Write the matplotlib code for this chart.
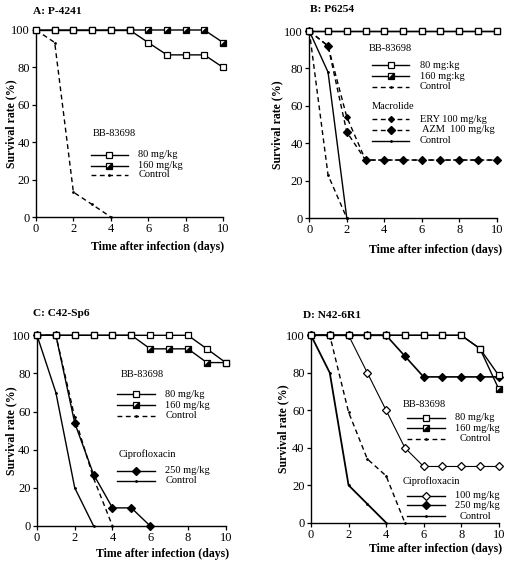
import matplotlib
matplotlib.use("Agg")
import matplotlib.pyplot as plt
from matplotlib.path import Path

plt.rcParams['font.family'] = ['Liberation Serif', 'DejaVu Serif']

days = list(range(11))

# Panel A: P-4241
A_80 = [100, 100, 100, 100, 100, 100, 93.3, 86.7, 86.7, 86.7, 80]
A_160 = [100, 100, 100, 100, 100, 100, 100, 100, 100, 100, 93.3]
A_ctrl_days = [0, 1, 2, 3, 4]
A_ctrl = [100, 93.3, 13.3, 6.7, 0]

# Panel B: P6254
B_80 = [100] * 11
B_160 = [100] * 11
B_ctrl_days = [0, 1, 2]
B_ctrl = [100, 23, 0]
B_ery = [100, 92, 54, 31, 31, 31, 31, 31, 31, 31, 31]
B_azm = [100, 92, 46, 31, 31, 31, 31, 31, 31, 31, 31]
B_mctrl_days = [0, 1, 2]
B_mctrl = [100, 78, 0]

# Panel C: C42-Sp6
C_80 = [100, 100, 100, 100, 100, 100, 100, 100, 100, 92.9, 85.7]
C_160 = [100, 100, 100, 100, 100, 100, 92.9, 92.9, 92.9, 85.7, 85.7]
C_ctrl_days = [0, 1, 2, 3, 4]
C_ctrl = [100, 100, 57, 25, 0]
C_cip250_days = [0, 1, 2, 3, 4, 5, 6]
C_cip250 = [100, 100, 54, 27, 9.5, 9.5, 0]
C_cctrl_days = [0, 1, 2, 3]
C_cctrl = [100, 70, 20, 0]

# Panel D: N42-6R1
D_80 = [100, 100, 100, 100, 100, 100, 100, 100, 100, 92.9, 78.6]
D_160 = [100, 100, 100, 100, 100, 100, 100, 100, 100, 92.9, 71.4]
D_ctrl_days = [0, 1, 2, 3, 4, 5]
D_ctrl = [100, 100, 59, 34, 25, 0]
D_cip100 = [100, 100, 100, 80, 60, 40, 30, 30, 30, 30, 30]
D_cip250 = [100, 100, 100, 100, 100, 88.9, 77.8, 77.8, 77.8, 77.8, 77.8]
D_cctrl_days = [0, 1, 2, 3, 4]
D_cctrl = [100, 80, 20, 10, 0]

W, H = 512, 564
fig = plt.figure(figsize=(W / 100, H / 100), dpi=100)

def px_axes(x0, x1, y_top, y_bot):
    return fig.add_axes([x0 / W, 1 - y_bot / H, (x1 - x0) / W, (y_bot - y_top) / H])

tri = Path([(-1, -1), (1, -1), (1, 1), (-1, -1)], [Path.MOVETO, Path.LINETO, Path.LINETO, Path.CLOSEPOLY])
MS = 4.3
DASH = (0, (3.5, 2.5))

def open_sq(ax, x, y, ls='-', lw=1.0):
    ax.plot(x, y, color='black', lw=lw, ls=ls, marker='s', ms=MS, mfc='white', mec='black', mew=0.9, clip_on=False, zorder=4)

def half_sq(ax, x, y, ls='-', lw=1.0):
    ax.plot(x, y, color='black', lw=lw, ls=ls, marker='s', ms=MS, mfc='white', mec='black', mew=0.9, clip_on=False, zorder=3)
    ax.plot(x, y, ls='none', marker=tri, ms=MS, mfc='black', mec='black', mew=0.3, clip_on=False, zorder=3.5)

def dot_line(ax, x, y, ls='-', lw=1.0, z=2):
    ax.plot(x, y, color='black', lw=lw, ls=ls, marker='.', ms=2, clip_on=False, zorder=z)

def diamond(ax, x, y, filled=True, ls='-', lw=1.0, ms=MS, z=3):
    ax.plot(x, y, color='black', lw=lw, ls=ls, marker='D', ms=ms * 0.85,
            mfc='black' if filled else 'white', mec='black', mew=0.9, clip_on=False, zorder=z)

def style(ax):
    ax.set_xlim(0, 10)
    ax.set_ylim(0, 100)
    ax.set_xticks([0, 2, 4, 6, 8, 10])
    ax.set_yticks([0, 20, 40, 60, 80, 100])
    for s in ['top', 'right']:
        ax.spines[s].set_visible(False)
    for s in ['left', 'bottom']:
        ax.spines[s].set_linewidth(1.0)
    ax.tick_params(direction='out', length=3, width=0.9, labelsize=9, pad=1.5)
    ax.patch.set_alpha(0)

FS_LEG = 7.5
FS_LAB = 8.5

def leg_row(ax, x0, x1, xl, y, kind, label):
    xm = (x0 + x1) / 2
    ax.plot([x0, x1], [y, y], color='black', lw=1.0, ls=DASH if kind in ('dash', 'dashdia', 'dashdia2') else '-', clip_on=False)
    if kind == 'osq':
        ax.plot([xm], [y], marker='s', ms=MS, mfc='white', mec='black', mew=0.9, clip_on=False)
    elif kind == 'hsq':
        ax.plot([xm], [y], marker='s', ms=MS, mfc='white', mec='black', mew=0.9, clip_on=False)
        ax.plot([xm], [y], marker=tri, ms=MS, mfc='black', mec='black', mew=0.3, clip_on=False)
    elif kind in ('dash', 'solid'):
        ax.plot([xm], [y], marker='.', ms=2, color='black', clip_on=False)
    elif kind == 'dashdia':
        ax.plot([xm], [y], marker='D', ms=MS * 0.7, color='black', clip_on=False)
    elif kind == 'dashdia2':
        ax.plot([xm], [y], marker='D', ms=MS * 0.9, color='black', clip_on=False)
    elif kind == 'odia':
        ax.plot([xm], [y], marker='D', ms=MS * 0.85, mfc='white', mec='black', mew=0.9, clip_on=False)
    elif kind == 'fdia':
        ax.plot([xm], [y], marker='D', ms=MS * 0.85, color='black', clip_on=False)
    ax.text(xl, y, label, fontsize=FS_LEG, va='center', ha='left')

def labels(ax, title, title_xy, ylab_x, xlab_xy):
    fig.text(title_xy[0] / W, 1 - title_xy[1] / H, title, fontsize=8.2, fontweight='bold', ha='left', va='center')
    bb = ax.get_position()
    fig.text(ylab_x / W, bb.y0 + bb.height / 2, 'Survival rate (%)', rotation=90, fontsize=FS_LAB, fontweight='bold', ha='center', va='center')
    fig.text(xlab_xy[0] / W, 1 - xlab_xy[1] / H, 'Time after infection (days)', fontsize=FS_LAB, fontweight='bold', ha='right', va='center')

# ---------- A ----------
axA = px_axes(36, 223, 30, 217)
style(axA)
half_sq(axA, days, A_160)
open_sq(axA, days[:6], A_80[:6])
open_sq(axA, days[5:], A_80[5:])
dot_line(axA, A_ctrl_days, A_ctrl, ls=DASH)
axA.text(3.03, 44.8, 'BB-83698', fontsize=FS_LEG, va='center')
leg_row(axA, 2.92, 4.94, 5.47, 33.2, 'osq', '80 mg/kg')
leg_row(axA, 2.92, 4.94, 5.47, 27.3, 'hsq', '160 mg/kg')
leg_row(axA, 2.92, 4.94, 5.47, 22.5, 'dash', 'Control')
labels(axA, 'A: P-4241', (33, 12), 11, (224, 247))

# ---------- B ----------
axB = px_axes(309.3, 496.7, 31, 218)
style(axB)
half_sq(axB, days, B_160)
open_sq(axB, days, B_80)
dot_line(axB, B_ctrl_days, B_ctrl, ls=DASH)
dot_line(axB, B_mctrl_days, B_mctrl, ls='-')
diamond(axB, days, B_ery, ls=DASH, ms=MS * 0.8)
diamond(axB, days, B_azm, ls=DASH, ms=MS * 1.0)
axB.text(3.15, 90.5, 'BB-83698', fontsize=FS_LEG, va='center')
leg_row(axB, 3.35, 5.34, 5.9, 81.8, 'osq', '80 mg:kg')
leg_row(axB, 3.35, 5.34, 5.9, 75.8, 'hsq', '160 mg:kg')
leg_row(axB, 3.35, 5.34, 5.9, 70.2, 'dash', 'Control')
axB.text(3.31, 59.5, 'Macrolide', fontsize=FS_LEG, va='center')
leg_row(axB, 3.35, 5.34, 5.9, 52.9, 'dashdia', 'ERY 100 mg/kg')
leg_row(axB, 3.35, 5.34, 6.0, 47.2, 'dashdia2', 'AZM  100 mg/kg')
leg_row(axB, 3.35, 5.34, 5.9, 41.3, 'solid', 'Control')
labels(axB, 'B: P6254', (310, 10), 277, (502, 250))

# ---------- C ----------
axC = px_axes(37, 225.7, 335.3, 526)
style(axC)
half_sq(axC, days, C_160)
open_sq(axC, days, C_80)
dot_line(axC, C_ctrl_days, C_ctrl, ls=DASH)
dot_line(axC, C_cctrl_days, C_cctrl, ls='-')
diamond(axC, C_cip250_days, C_cip250, ls='-')
axC.text(4.45, 79.5, 'BB-83698', fontsize=FS_LEG, va='center')
leg_row(axC, 4.26, 6.25, 6.8, 69.2, 'osq', '80 mg/kg')
leg_row(axC, 4.26, 6.25, 6.8, 63.3, 'hsq', '160 mg/kg')
leg_row(axC, 4.26, 6.25, 6.8, 57.7, 'dash', 'Control')
axC.text(4.31, 37.9, 'Ciprofloxacin', fontsize=FS_LEG, va='center')
leg_row(axC, 4.26, 6.25, 6.8, 29.0, 'fdia', '250 mg/kg')
leg_row(axC, 4.26, 6.25, 6.8, 23.6, 'solid', 'Control')
labels(axC, 'C: C42-Sp6', (33, 313), 11, (229, 554))

# ---------- D ----------
axD = px_axes(311, 498.7, 335.3, 522.7)
style(axD)
diamond(axD, days, D_cip250, ls='-', lw=1.2)
diamond(axD, days, D_cip100, filled=False, ls='-', lw=0.8)
half_sq(axD, days, D_160)
open_sq(axD, days, D_80)
dot_line(axD, D_ctrl_days, D_ctrl, ls=DASH)
dot_line(axD, D_cctrl_days, D_cctrl, ls='-', lw=1.3)
axD.text(4.9, 63.2, 'BB-83698', fontsize=FS_LEG, va='center')
leg_row(axD, 5.1, 7.15, 7.67, 55.9, 'osq', '80 mg/kg')
leg_row(axD, 5.1, 7.15, 7.67, 50.5, 'hsq', '160 mg/kg')
leg_row(axD, 5.1, 7.15, 7.9, 44.7, 'dash', 'Control')
axD.text(4.9, 22.3, 'Ciprofloxacin', fontsize=FS_LEG, va='center')
leg_row(axD, 5.1, 7.15, 7.67, 14.4, 'odia', '100 mg/kg')
leg_row(axD, 5.1, 7.15, 7.67, 9.4, 'fdia', '250 mg/kg')
leg_row(axD, 5.1, 7.15, 7.9, 3.4, 'solid', 'Control')
labels(axD, 'D: N42-6R1', (303, 315), 283, (502, 549))

fig.savefig('out.png', dpi=100)
